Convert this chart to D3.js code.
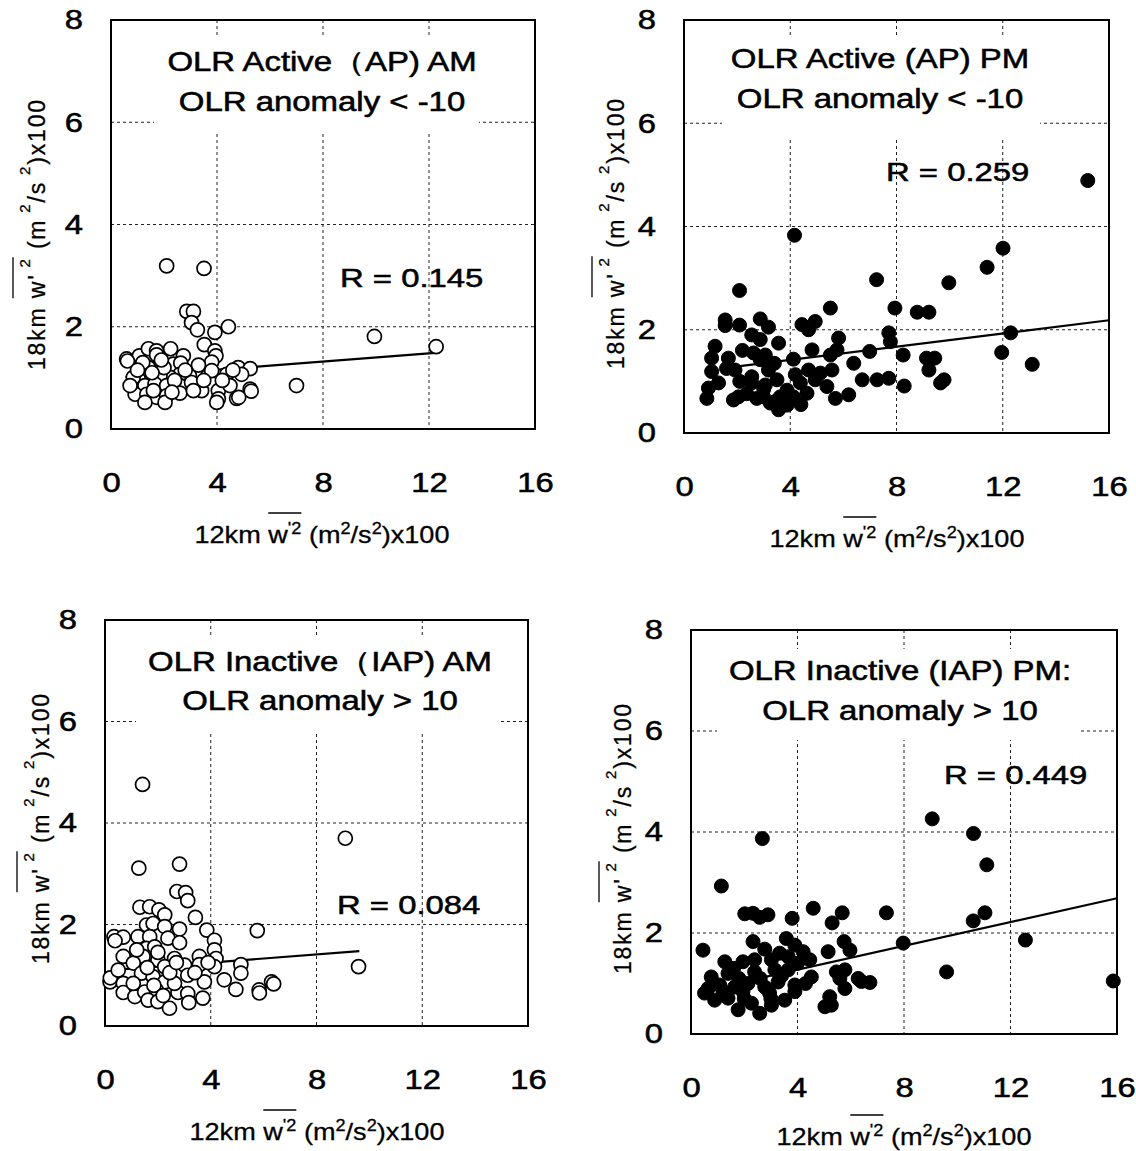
<!DOCTYPE html>
<html>
<head>
<meta charset="utf-8">
<script src="https://cdn.jsdelivr.net/npm/d3@7"></script>
<style>
  body { margin: 0; background: #fff; }
  text { font-family: Arial, "Liberation Sans", sans-serif; fill: #000; }
  .heavy { stroke: #000; stroke-width: 0.55px; }
  .semi { stroke: #000; stroke-width: 0.3px; }
</style>
</head>
<body>
<svg id="chart" width="1136" height="1151"></svg>
<script>
// ---- data ----
const xTicks = [0, 4, 8, 12, 16];
const yTicks = [0, 2, 4, 6, 8];

// OLR active, AM (open circles)
const activeAM = [
  [2.10,3.19],[3.51,3.14],[2.86,2.30],[3.11,2.30],[3.04,2.08],[3.26,1.94],[3.92,1.89],[4.43,2.00],
  [3.52,1.65],[3.92,1.53],[3.96,1.43],[0.59,1.37],[1.07,1.43],[1.41,1.57],[1.72,1.53],[2.25,1.57],
  [2.73,1.43],[1.72,1.45],[1.41,1.20],[2.35,1.27],[2.63,1.29],[3.80,1.31],[4.80,1.20],[5.25,1.18],
  [4.93,1.07],[4.37,1.07],[3.80,1.14],[3.17,1.11],[2.96,1.04],[2.60,1.07],[2.23,1.01],[1.85,1.04],
  [1.47,1.03],[1.03,0.98],[0.84,0.91],[1.28,0.85],[1.66,0.88],[2.10,0.85],[2.60,0.85],[3.04,0.91],
  [3.42,0.75],[4.05,0.75],[4.49,0.85],[5.25,0.78],[0.91,0.68],[1.35,0.68],[1.72,0.62],[2.10,0.65],
  [2.60,0.70],[3.11,0.75],[4.05,0.59],[4.74,0.60],[1.28,0.52],[2.04,0.52],[3.99,0.52],[0.84,1.01],
  [0.72,0.85],[9.94,1.81],[12.27,1.61],[7.00,0.85],[5.29,0.74],[4.82,0.62],[0.62,1.33],[1.20,1.30],
  [2.00,1.20],[1.60,0.75],[2.40,0.95],[3.50,0.95],[4.20,0.95],[4.60,1.15],[1.00,1.15],[1.90,1.35],
  [3.30,1.25],[2.80,1.15],[1.55,1.10],[2.30,0.72]
];

// OLR active, PM (filled circles)
const activePM = [
  [2.09,2.76],[7.25,2.97],[9.97,2.91],[11.41,3.21],[15.20,4.89],[4.16,3.83],[12.01,3.58],[5.51,2.42],
  [7.94,2.42],[8.78,2.34],[9.22,2.34],[1.55,2.19],[1.55,2.08],[2.09,2.09],[2.87,2.21],[3.18,2.05],
  [4.44,2.10],[4.94,2.16],[4.69,2.00],[2.55,1.90],[2.87,1.81],[3.56,1.74],[5.82,1.84],[5.76,1.61],
  [7.71,1.94],[7.77,1.77],[1.17,1.68],[1.04,1.45],[1.67,1.45],[2.62,1.55],[3.06,1.51],[4.82,1.61],
  [5.51,1.51],[6.99,1.58],[8.25,1.51],[9.13,1.45],[11.96,1.56],[12.30,1.94],[13.11,1.33],[4.12,1.43],
  [6.39,1.35],[9.22,1.22],[1.04,1.19],[1.92,1.22],[2.55,1.09],[3.18,1.22],[2.87,1.42],[4.19,1.13],
  [4.69,1.22],[5.13,1.16],[5.57,1.22],[6.71,1.03],[7.27,1.03],[7.71,1.06],[8.29,0.91],[9.79,1.03],
  [9.66,0.97],[1.30,0.97],[0.92,0.87],[0.86,0.67],[2.05,0.70],[1.86,0.64],[2.74,0.67],[2.55,0.97],
  [3.06,0.93],[3.50,1.03],[3.62,0.70],[3.25,0.58],[3.56,0.45],[3.88,0.54],[4.12,0.70],[4.63,0.77],
  [4.38,0.97],[4.94,1.03],[5.38,0.90],[5.70,0.67],[6.20,0.74],[3.88,0.83],[2.99,0.70],[2.36,0.76],
  [3.43,0.61],[9.44,1.45],[2.20,1.60],[3.40,1.35],[4.40,0.55],[3.00,0.85],[1.60,1.25],[2.10,1.00]
];

// OLR inactive, AM (open circles)
const inactiveAM = [
  [9.09,3.70],[1.28,3.11],[2.82,3.19],[2.72,2.65],[3.05,2.63],[3.13,2.47],[3.42,2.14],[1.32,2.34],
  [1.69,2.35],[2.04,2.29],[2.26,2.19],[1.57,1.99],[1.82,2.02],[2.26,1.96],[2.82,1.91],[3.85,1.89],
  [4.14,1.69],[5.76,1.88],[0.34,1.76],[0.69,1.75],[0.38,1.68],[1.25,1.76],[1.69,1.76],[2.38,1.73],
  [2.82,1.64],[1.57,1.53],[1.88,1.56],[4.14,1.50],[0.69,1.37],[1.44,1.37],[2.00,1.30],[2.63,1.33],
  [3.57,1.37],[4.20,1.33],[1.07,1.24],[2.26,1.17],[3.01,1.20],[3.57,1.21],[4.14,1.17],[5.14,1.21],
  [5.14,1.04],[9.59,1.17],[0.19,0.87],[0.69,0.84],[1.38,1.04],[1.82,0.97],[2.26,0.87],[3.13,1.00],
  [3.76,0.87],[4.51,0.91],[4.95,0.72],[5.83,0.71],[6.30,0.87],[0.69,0.66],[1.13,0.58],[1.50,0.67],
  [1.94,0.71],[1.63,0.51],[2.00,0.48],[2.44,0.35],[2.76,0.66],[3.13,0.64],[3.17,0.46],[3.70,0.55],
  [2.63,0.84],[1.07,0.84],[1.42,4.76],[6.38,0.83],[5.84,0.65],[0.20,0.95],[1.60,1.15],[2.45,1.05],
  [3.40,1.05],[2.00,1.45],[1.20,1.50],[3.90,1.25],[0.50,1.10],[2.70,1.25],[1.85,0.80],[2.20,0.60]
];

// OLR inactive, PM (filled circles)
const inactivePM = [
  [1.14,2.93],[2.02,2.38],[2.33,2.39],[2.58,2.31],[2.89,2.36],[3.80,2.29],[4.59,2.49],[5.68,2.40],
  [5.30,2.20],[7.34,2.40],[10.60,2.24],[11.04,2.40],[11.11,3.35],[9.06,4.26],[10.61,3.97],[2.68,3.87],
  [15.86,1.05],[12.56,1.86],[0.45,1.66],[2.33,1.83],[2.77,1.68],[3.58,1.89],[3.90,1.76],[4.21,1.63],
  [4.46,1.47],[5.15,1.63],[5.75,1.83],[5.97,1.66],[7.97,1.80],[9.60,1.23],[1.27,1.43],[1.95,1.43],
  [3.02,1.47],[3.33,1.60],[0.76,1.13],[1.39,1.20],[2.39,1.23],[3.15,1.27],[3.65,1.27],[4.52,1.13],
  [5.46,1.23],[5.59,1.10],[5.78,1.27],[6.28,1.10],[6.72,1.02],[6.40,1.04],[5.78,0.90],[0.51,0.81],
  [0.64,0.90],[1.08,0.97],[1.64,0.93],[2.14,1.00],[2.77,0.93],[3.27,1.03],[3.90,0.97],[1.39,0.71],
  [1.77,0.48],[2.27,0.61],[2.58,0.41],[3.02,0.57],[3.52,0.67],[3.90,0.84],[5.03,0.54],[5.21,0.74],
  [0.89,0.67],[1.95,0.84],[2.95,0.81],[2.39,1.47],[3.65,1.53],[5.27,0.57],[1.80,1.10],[2.60,1.10],
  [3.40,1.15],[4.00,1.40],[1.20,0.85],[2.00,0.70],[3.00,0.70],[4.30,1.00],[1.60,1.30]
];

// regression lines: [x start, x end, intercept, slope]
const fits = [
  [0.55, 12.24, 1.00, 0.040],
  [1.8, 16, 1.16, 0.064],
  [0.25, 9.62, 1.09, 0.040],
  [2.5, 16, 0.80, 0.118]
];

const titles = [
  ["OLR Active（AP) AM", "OLR anomaly < -10"],
  ["OLR Active (AP) PM", "OLR anomaly < -10"],
  ["OLR Inactive（IAP) AM", "OLR anomaly > 10"],
  ["OLR Inactive (IAP) PM:", "OLR anomaly > 10"]
];
const rLabels = ["R = 0.145", "R = 0.259", "R = 0.084", "R = 0.449"];
const solid = [false, true, false, true];

const xLabelParts = [
  {t: "12km "}, {t: "w", ol: 1}, {t: "'2", sup: 1, ol: 1}, {t: " (m"},
  {t: "2", sup: 1}, {t: "/s"}, {t: "2", sup: 1}, {t: ")x100"}
];
const yLabelParts = [
  {t: "18km "}, {t: "w'", ol: 1}, {t: " 2", sup: 1, ol: 1}, {t: " (m"},
  {t: " 2", sup: 1}, {t: "/s"}, {t: " 2", sup: 1}, {t: ")x100"}
];

// ---- layout ----
const panels = [
  {l: 111, r: 535, t: 20, b: 429, tx: 322, ty: [71, 111], bg: [154, 38, 479, 134], rx: 340, ry: 287,
   ylx: 45, yly: 234, xlx: 322, xly: 543},
  {l: 684, r: 1109, t: 20, b: 433, tx: 880, ty: [68, 108], bg: [722, 38, 1040, 140], rx: 886, ry: 181,
   ylx: 624, yly: 233, xlx: 897, xly: 547},
  {l: 105, r: 528, t: 620, b: 1026, tx: 320, ty: [671, 710], bg: [136, 637, 500, 733], rx: 337, ry: 914,
   ylx: 49, yly: 828, xlx: 317, xly: 1140},
  {l: 691, r: 1117, t: 630, b: 1034, tx: 900, ty: [680, 720], bg: [717, 649, 1081, 740], rx: 944, ry: 784,
   ylx: 631, yly: 838, xlx: 904, xly: 1145}
];
// the source lettering is wider than Arial, so text is stretched sideways
const SX_TITLE = 1.22, SX_R = 1.24, SX_TICK = 1.17, SX_XLAB = 1.13;

const svg = d3.select("#chart");
const series = [activeAM, activePM, inactiveAM, inactivePM];

panels.forEach((p, i) => drawPanel(p, series[i], fits[i], titles[i], rLabels[i], solid[i]));

function richText(g, parts, size, supSize, rise) {
  const t = g.append("text").attr("font-size", size);
  let up = false;
  parts.forEach(pt => {
    const ts = t.append("tspan").text(pt.t);
    if (pt.sup) {
      ts.attr("font-size", supSize);
      if (!up) { ts.attr("dy", -rise); up = true; }
    } else if (up) {
      ts.attr("dy", rise); up = false;
    }
  });
  return t;
}

function overline(g, t, parts, lift) {
  let idx = 0, s = null, e = null;
  parts.forEach(pt => {
    if (pt.ol) { if (s === null) s = idx; e = idx + pt.t.length - 1; }
    idx += pt.t.length;
  });
  const n = t.node();
  g.append("line")
    .attr("x1", n.getStartPositionOfChar(s).x)
    .attr("x2", n.getEndPositionOfChar(e).x)
    .attr("y1", -lift).attr("y2", -lift)
    .attr("stroke", "#000").attr("stroke-width", 1.3);
}

function drawPanel(p, pts, fit, title, rText, filled) {
  const x = d3.scaleLinear().domain([0, 16]).range([p.l, p.r]);
  const y = d3.scaleLinear().domain([0, 8]).range([p.b, p.t]);
  const g = svg.append("g");

  // dashed grid
  g.selectAll(".gx").data(xTicks.slice(1, -1)).enter().append("line")
    .attr("x1", d => x(d)).attr("x2", d => x(d)).attr("y1", p.t).attr("y2", p.b)
    .attr("stroke", "#222").attr("stroke-width", 1).attr("stroke-dasharray", "3,3");
  g.selectAll(".gy").data(yTicks.slice(1, -1)).enter().append("line")
    .attr("x1", p.l).attr("x2", p.r).attr("y1", d => y(d)).attr("y2", d => y(d))
    .attr("stroke", "#222").attr("stroke-width", 1).attr("stroke-dasharray", "3,3");

  // title sits on a white patch that hides the grid
  g.append("rect")
    .attr("x", p.bg[0]).attr("y", p.bg[1])
    .attr("width", p.bg[2] - p.bg[0]).attr("height", p.bg[3] - p.bg[1])
    .attr("fill", "#fff");
  title.forEach((line, k) => {
    g.append("text").attr("class", "heavy")
      .attr("transform", `translate(${p.tx},${p.ty[k]}) scale(${SX_TITLE},1)`)
      .attr("text-anchor", "middle").attr("font-size", 27)
      .text(line);
  });

  // frame
  g.append("rect")
    .attr("x", p.l).attr("y", p.t).attr("width", p.r - p.l).attr("height", p.b - p.t)
    .attr("fill", "none").attr("stroke", "#000").attr("stroke-width", 2);

  // regression line
  g.append("line")
    .attr("x1", x(fit[0])).attr("y1", y(fit[2] + fit[3] * fit[0]))
    .attr("x2", x(fit[1])).attr("y2", y(fit[2] + fit[3] * fit[1]))
    .attr("stroke", "#000").attr("stroke-width", 2.2);

  // points
  g.selectAll(".pt").data(pts).enter().append("circle")
    .attr("cx", d => x(d[0])).attr("cy", d => y(d[1])).attr("r", 7)
    .attr("fill", filled ? "#000" : "#fff")
    .attr("stroke", "#000").attr("stroke-width", filled ? 1 : 1.7);

  // correlation
  g.append("text").attr("class", "heavy")
    .attr("transform", `translate(${p.rx},${p.ry}) scale(${SX_R},1)`)
    .attr("font-size", 26.5).text(rText);

  // tick labels
  const ax = g.append("g").attr("transform", `translate(0,${p.b})`)
    .call(d3.axisBottom(x).tickValues(xTicks).tickSize(0).tickPadding(43));
  ax.select(".domain").remove();
  ax.attr("font-size", 28).attr("font-family", null);
  ax.selectAll("text").attr("class", "heavy").attr("transform", `scale(${SX_TICK},1)`);

  const ay = g.append("g").attr("transform", `translate(${p.l},0)`)
    .call(d3.axisLeft(y).tickValues(yTicks).tickSize(0).tickPadding(24));
  ay.select(".domain").remove();
  ay.attr("font-size", 28).attr("font-family", null);
  ay.selectAll("text").attr("class", "heavy").attr("transform", `scale(${SX_TICK},1)`);

  // x axis title
  const gx = g.append("g").attr("transform", `translate(${p.xlx},${p.xly}) scale(${SX_XLAB},1)`);
  const tx = richText(gx, xLabelParts, 24, 16, 9).attr("text-anchor", "middle").attr("class", "semi");
  overline(gx, tx, xLabelParts, 30);

  // y axis title
  const gy = g.append("g").attr("transform", `translate(${p.ylx},${p.yly}) rotate(-90)`);
  const ty = richText(gy, yLabelParts, 23, 15, 15).attr("text-anchor", "middle").attr("class", "semi");
  const len = ty.node().getComputedTextLength();
  const nChars = yLabelParts.map(d => d.t).join("").length;
  ty.style("letter-spacing", ((272 - len) / nChars) + "px");
  overline(gy, ty, yLabelParts, 32);
}
</script>
</body>
</html>
